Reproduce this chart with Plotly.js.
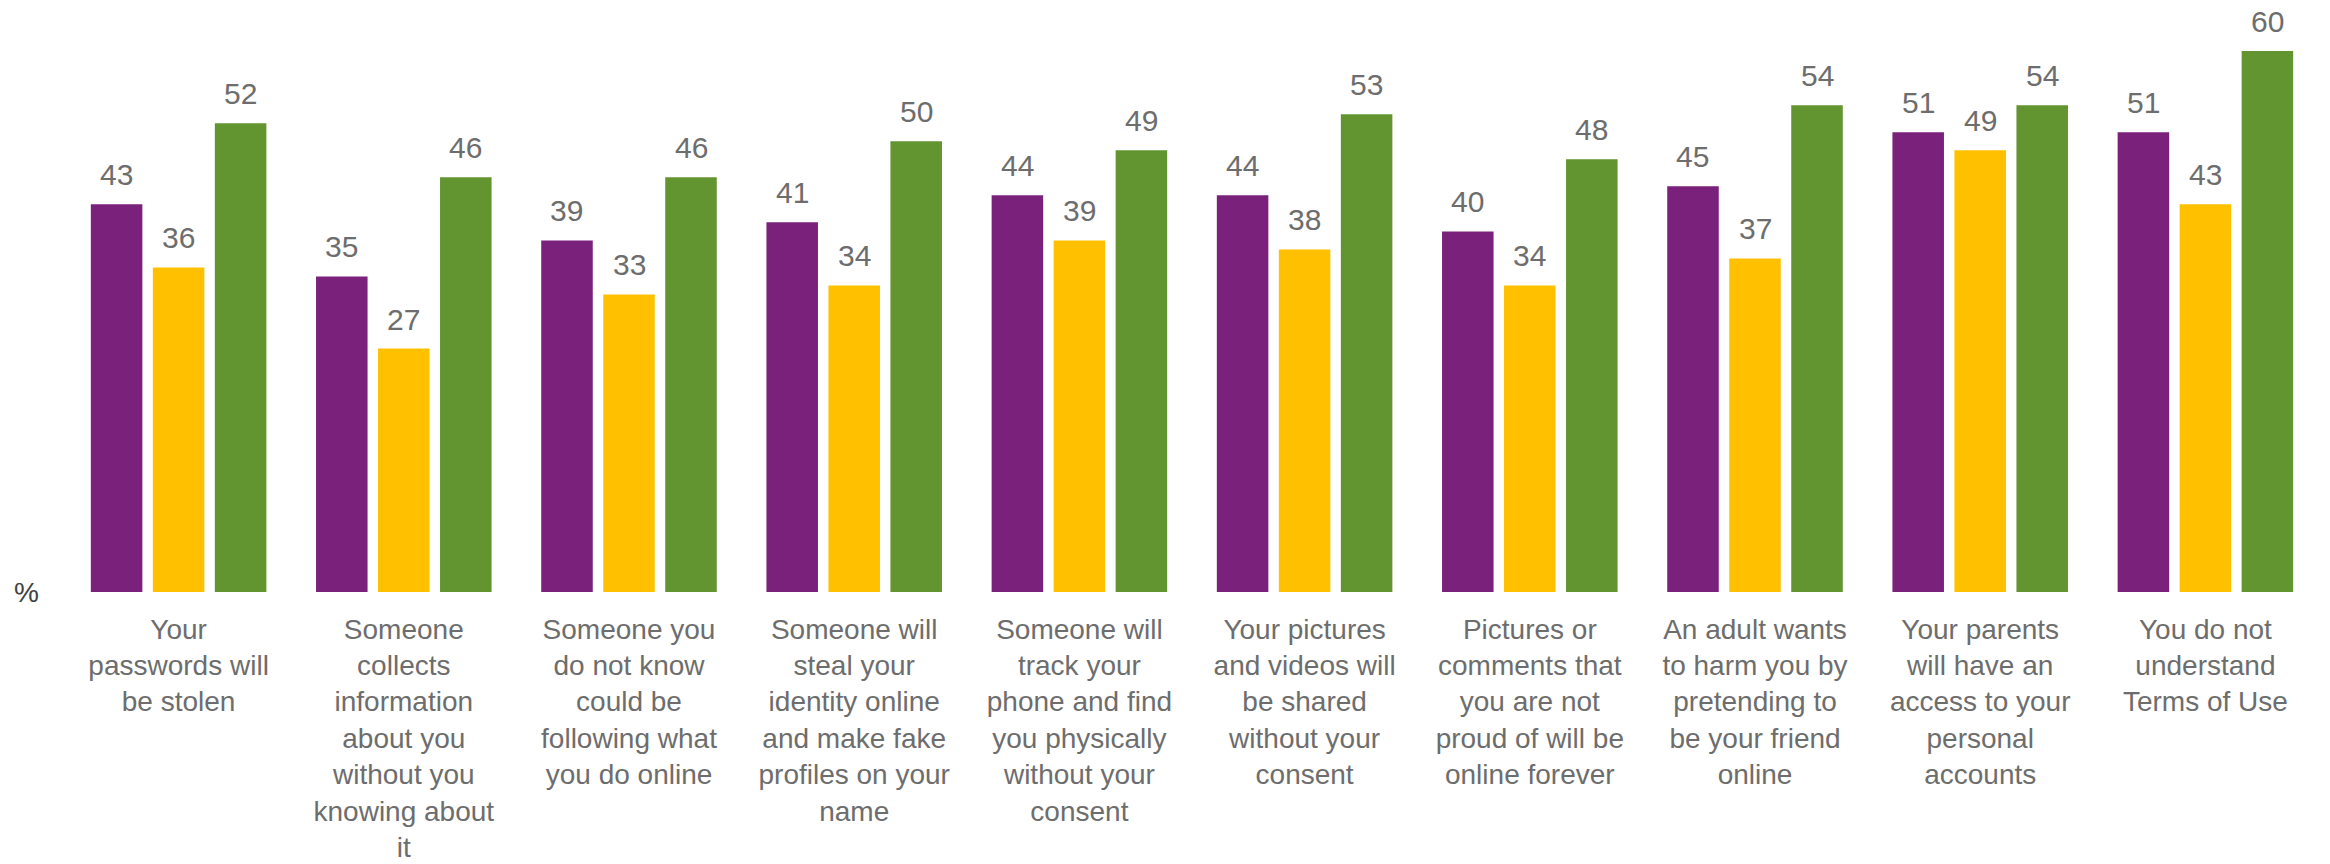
<!DOCTYPE html>
<html>
<head>
<meta charset="utf-8">
<script src="https://cdn.plot.ly/plotly-3.0.1.min.js"></script>
<style>html,body{margin:0;padding:0;background:#fff;}#chart{width:2330px;height:864px;}</style>
</head>
<body>
<div id="chart"></div>
<script>
const categories = [
  "Your<br>passwords will<br>be stolen",
  "Someone<br>collects<br>information<br>about you<br>without you<br>knowing about<br>it",
  "Someone you<br>do not know<br>could be<br>following what<br>you do online",
  "Someone will<br>steal your<br>identity online<br>and make fake<br>profiles on your<br>name",
  "Someone will<br>track your<br>phone and find<br>you physically<br>without your<br>consent",
  "Your pictures<br>and videos will<br>be shared<br>without your<br>consent",
  "Pictures or<br>comments that<br>you are not<br>proud of will be<br>online forever",
  "An adult wants<br>to harm you by<br>pretending to<br>be your friend<br>online",
  "Your parents<br>will have an<br>access to your<br>personal<br>accounts",
  "You do not<br>understand<br>Terms of Use"
];
const seriesPurple = [43, 35, 39, 41, 44, 44, 40, 45, 51, 51];
const seriesYellow = [36, 27, 33, 34, 39, 38, 34, 37, 49, 43];
const seriesGreen  = [52, 46, 46, 50, 49, 53, 48, 54, 54, 60];

const colors = ["#7a217c", "#ffc000", "#62942f"];
const allSeries = [seriesPurple, seriesYellow, seriesGreen];
const FONT = "Liberation Sans";

const W = 2330, H = 864;
const margin = {l: 66, r: 12, t: 6, b: 272};
const bargap = 0.174;
const bargroupgap = 0.169;
const plotW = W - margin.l - margin.r;
const catW = plotW / categories.length;
const slotW = catW * (1 - bargap) / allSeries.length;

const traces = allSeries.map((vals, i) => ({
  type: "bar",
  x: categories,
  y: vals,
  marker: {color: colors[i]},
  hoverinfo: "skip",
  showlegend: false
}));

const annotations = [];
allSeries.forEach((vals, i) => {
  vals.forEach((v, j) => {
    annotations.push({
      x: categories[j], y: v, xref: "x", yref: "y",
      text: String(v), showarrow: false,
      xanchor: "center", yanchor: "bottom",
      xshift: (i - 1) * slotW, yshift: 11,
      font: {family: FONT, size: 30, color: "#6d6d6d"}
    });
  });
});
annotations.push({
  text: "%",
  xref: "paper", yref: "paper",
  x: (26 - margin.l) / plotW, y: 0,
  xanchor: "center", yanchor: "middle",
  showarrow: false,
  font: {family: FONT, size: 28, color: "#404040"}
});

const layout = {
  width: W,
  height: H,
  margin: margin,
  paper_bgcolor: "#ffffff",
  plot_bgcolor: "#ffffff",
  barmode: "group",
  bargap: bargap,
  bargroupgap: bargroupgap,
  font: {family: FONT, color: "#6d6d6d"},
  xaxis: {
    type: "category",
    showgrid: false,
    zeroline: false,
    showline: false,
    ticks: "outside",
    ticklen: 12,
    tickcolor: "rgba(0,0,0,0)",
    tickangle: 0,
    tickfont: {family: FONT, size: 28, color: "#6d6d6d"},
    automargin: false
  },
  yaxis: {
    range: [0, 65],
    showgrid: false,
    zeroline: false,
    showline: false,
    showticklabels: false,
    ticks: ""
  },
  annotations: annotations
};

Plotly.newPlot("chart", traces, layout, {displayModeBar: false, staticPlot: true});
</script>
</body>
</html>
